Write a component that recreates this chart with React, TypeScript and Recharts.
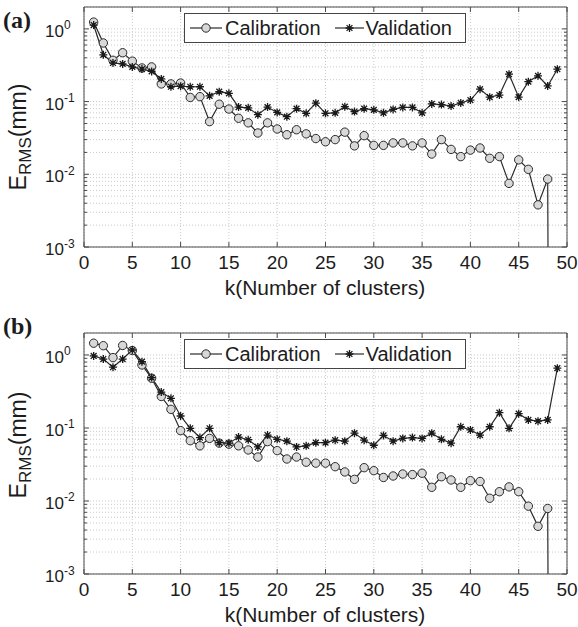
import React from 'react';
import { LineChart, Line, XAxis, YAxis, CartesianGrid, Legend } from 'recharts';

// k = 1..49
const clusters = [
  1, 2, 3, 4, 5, 6, 7, 8, 9, 10, 11, 12, 13, 14, 15, 16, 17, 18, 19, 20, 21, 22, 23, 24, 25,
  26, 27, 28, 29, 30, 31, 32, 33, 34, 35, 36, 37, 38, 39, 40, 41, 42, 43, 44, 45, 46, 47, 48, 49,
];

// (a) E_RMS in mm; last calibration point is ~0 (drops off the log axis)
const calibA = [
  1.24, 0.64, 0.37, 0.47, 0.36, 0.29, 0.3, 0.175, 0.175, 0.18,
  0.114, 0.117, 0.053, 0.092, 0.079, 0.059, 0.051, 0.037, 0.051, 0.042,
  0.035, 0.041, 0.036, 0.031, 0.028, 0.03, 0.038, 0.0246, 0.034, 0.025,
  0.025, 0.027, 0.027, 0.0246, 0.027, 0.019, 0.03, 0.022, 0.0175, 0.0215,
  0.023, 0.0166, 0.0175, 0.0075, 0.0158, 0.0117, 0.0038, 0.0086, 1e-30,
];
const validA = [
  1.13, 0.44, 0.34, 0.33, 0.3, 0.28, 0.26, 0.205, 0.16, 0.163,
  0.16, 0.16, 0.12, 0.137, 0.13, 0.084, 0.082, 0.066, 0.084, 0.071,
  0.062, 0.08, 0.069, 0.095, 0.069, 0.07, 0.085, 0.073, 0.08, 0.077,
  0.07, 0.078, 0.083, 0.083, 0.07, 0.093, 0.091, 0.087, 0.096, 0.105,
  0.148, 0.115, 0.123, 0.238, 0.115, 0.188, 0.226, 0.164, 0.279,
];

// (b)
const calibB = [
  1.45, 1.34, 0.92, 1.35, 1.15, 0.73, 0.48, 0.27, 0.18, 0.092,
  0.067, 0.057, 0.072, 0.062, 0.06, 0.057, 0.05, 0.04, 0.065, 0.049,
  0.0376, 0.04, 0.034, 0.033, 0.033, 0.0295, 0.025, 0.0198, 0.0286, 0.026,
  0.021, 0.022, 0.0234, 0.023, 0.024, 0.0154, 0.0215, 0.0194, 0.0154, 0.019,
  0.0185, 0.0109, 0.0134, 0.0156, 0.0134, 0.0085, 0.0045, 0.0079, 1e-30,
];
const validB = [
  0.97, 0.88, 0.68, 0.88, 1.17, 0.81, 0.49, 0.31, 0.255, 0.146,
  0.099, 0.074, 0.099, 0.063, 0.062, 0.075, 0.069, 0.055, 0.08, 0.07,
  0.066, 0.055, 0.057, 0.063, 0.063, 0.068, 0.066, 0.085, 0.068, 0.058,
  0.079, 0.066, 0.072, 0.074, 0.072, 0.085, 0.07, 0.062, 0.104, 0.094,
  0.08, 0.104, 0.162, 0.099, 0.157, 0.129, 0.124, 0.129, 0.66,
];

const xTicks = [0, 5, 10, 15, 20, 25, 30, 35, 40, 45, 50];
const decades = [0.001, 0.01, 0.1, 1];
const yTicks = [
  0.001, 0.002, 0.003, 0.004, 0.005, 0.006, 0.007, 0.008, 0.009,
  0.01, 0.02, 0.03, 0.04, 0.05, 0.06, 0.07, 0.08, 0.09,
  0.1, 0.2, 0.3, 0.4, 0.5, 0.6, 0.7, 0.8, 0.9,
  1,
];

const FONT = '"Liberation Sans", Arial, sans-serif';
const INK = '#1c1c1c';
const AXIS = '#4a4a4a';
const GRID = '#cacaca';

const XTick = (props: any) => {
  const { x, y, payload, top } = props;
  return (
    <g>
      <line x1={x} x2={x} y1={y} y2={top ? y + 5 : y - 5} stroke={AXIS} />
      {!top && (
        <text x={x} y={y + 22} textAnchor="middle" fontSize={19} fontFamily={FONT} fill={INK}>
          {payload.value}
        </text>
      )}
    </g>
  );
};

const YTick = (props: any) => {
  const { x, y, payload, right } = props;
  const v = payload.value;
  const major = decades.includes(v);
  const len = major ? 5 : 3;
  return (
    <g>
      <line x1={x} x2={right ? x - len : x + len} y1={y} y2={y} stroke={AXIS} />
      {major && !right && (
        <text fontFamily={FONT} fill={INK}>
          <tspan x={45} y={y + 8} fontSize={17}>10</tspan>
          <tspan x={64} y={y + 0.5} fontSize={12}>{String(Math.round(Math.log10(v)))}</tspan>
        </text>
      )}
    </g>
  );
};

const CircleDot = (props: any) => {
  const { cx, cy } = props;
  if (cx == null || cy == null || !isFinite(cy)) return <g key={props.index} />;
  return <circle key={props.index} cx={cx} cy={cy} r={4.2} fill="#d8d8d8" stroke="#2a2a2a" strokeWidth={1} />;
};

const StarDot = (props: any) => {
  const { cx, cy } = props;
  if (cx == null || cy == null || !isFinite(cy)) return <g key={props.index} />;
  const r = 4;
  const d = 2.9;
  return (
    <path
      key={props.index}
      d={`M${cx - r},${cy}H${cx + r}M${cx},${cy - r}V${cy + r}M${cx - d},${cy - d}L${cx + d},${cy + d}M${cx - d},${cy + d}L${cx + d},${cy - d}`}
      stroke="#1a1a1a"
      strokeWidth={1.3}
      fill="none"
    />
  );
};

const LegendBox = () => (
  <div
    style={{
      width: 280,
      height: 28,
      border: '1px solid #444',
      background: '#fff',
      display: 'flex',
      alignItems: 'center',
      fontFamily: FONT,
      fontSize: 20,
      color: INK,
      boxSizing: 'content-box',
    }}
  >
    <svg width={32} height={12} style={{ marginLeft: 5, marginRight: 3 }}>
      <line x1={0} x2={32} y1={6} y2={6} stroke="#2a2a2a" strokeWidth={1.2} />
      <CircleDot cx={16} cy={6} />
    </svg>
    <span>Calibration</span>
    <svg width={29} height={12} style={{ marginLeft: 14, marginRight: 2 }}>
      <line x1={0} x2={29} y1={6} y2={6} stroke="#2a2a2a" strokeWidth={1.2} />
      <StarDot cx={14.5} cy={6} />
    </svg>
    <span>Validation</span>
  </div>
);

interface PanelProps {
  tag: string;
  calib: number[];
  valid: number[];
  top: number;
  height: number;
  marginTop: number;
  marginBottom: number;
  labelCenter: number;
  tagBaseline: number;
}

const Panel = ({ tag, calib, valid, top, height, marginTop, marginBottom, labelCenter, tagBaseline }: PanelProps) => {
  const data = clusters.map((k, i) => ({ k, calib: calib[i], valid: valid[i] }));
  const plotBottom = height - marginBottom;

  return (
    <div style={{ position: 'absolute', left: 0, top, width: 578, height }}>
      <LineChart
        width={578}
        height={height}
        data={data}
        margin={{ top: marginTop - 1, right: 10, bottom: marginBottom - 1, left: 83 }}
      >
        <CartesianGrid stroke={GRID} strokeDasharray="1 2" />
        <XAxis
          dataKey="k"
          type="number"
          domain={[0, 50]}
          ticks={xTicks}
          interval={0}
          height={1}
          tickSize={0}
          tickMargin={0}
          tickLine={false}
          axisLine={{ stroke: AXIS }}
          tick={<XTick />}
          label={{
            content: () => (
              <text x={325} y={plotBottom + 48} textAnchor="middle" fontSize={21} fontFamily={FONT} fill={INK}>
                k(Number of clusters)
              </text>
            ),
          }}
        />
        <XAxis
          xAxisId="top"
          orientation="top"
          dataKey="k"
          type="number"
          domain={[0, 50]}
          ticks={xTicks}
          interval={0}
          height={1}
          tickSize={0}
          tickMargin={0}
          tickLine={false}
          axisLine={{ stroke: AXIS }}
          tick={<XTick top />}
        />
        <YAxis
          scale="log"
          domain={[0.001, 2]}
          allowDataOverflow
          ticks={yTicks}
          interval={0}
          width={1}
          tickSize={0}
          tickMargin={0}
          tickLine={false}
          axisLine={{ stroke: AXIS }}
          tick={<YTick />}
          label={{
            content: () => (
              <g>
                <text x={3} y={tagBaseline} fontSize={24} fontWeight="bold" fontFamily='"Liberation Serif", "Times New Roman", serif' fill={INK}>
                  {tag}
                </text>
                <text
                  transform={`rotate(-90 26 ${labelCenter})`}
                  x={26}
                  y={labelCenter}
                  textAnchor="middle"
                  fontSize={23}
                  fontFamily={FONT}
                  fill={INK}
                >
                  E<tspan dy={5} fontSize={17}>RMS</tspan>
                  <tspan dy={-5}>(mm)</tspan>
                </text>
              </g>
            ),
          }}
        />
        <YAxis
          yAxisId="right"
          orientation="right"
          scale="log"
          domain={[0.001, 2]}
          allowDataOverflow
          ticks={yTicks}
          interval={0}
          width={1}
          tickSize={0}
          tickMargin={0}
          tickLine={false}
          axisLine={{ stroke: AXIS }}
          tick={<YTick right />}
        />
        <Legend
          verticalAlign="top"
          align="center"
          layout="horizontal"
          wrapperStyle={{ position: 'absolute', left: 184, top: marginTop + 6, width: 282, height: 0 }}
          content={() => <LegendBox />}
        />
        <Line
          dataKey="calib"
          name="Calibration"
          type="linear"
          stroke="#2a2a2a"
          strokeWidth={1.2}
          dot={(p: any) => <CircleDot {...p} key={`c${p.index}`} />}
          activeDot={false}
          isAnimationActive={false}
        />
        <Line
          dataKey="valid"
          name="Validation"
          type="linear"
          stroke="#2a2a2a"
          strokeWidth={1.2}
          dot={(p: any) => <StarDot {...p} key={`v${p.index}`} />}
          activeDot={false}
          isAnimationActive={false}
        />
      </LineChart>
    </div>
  );
};

export default function App() {
  return (
    <div style={{ position: 'absolute', left: 0, top: 0, width: 578, height: 627, background: '#fff' }}>
      <Panel
        tag="(a)"
        calib={calibA}
        valid={validA}
        top={0}
        height={310}
        marginTop={7}
        marginBottom={63}
        labelCenter={137}
        tagBaseline={28}
      />
      <Panel
        tag="(b)"
        calib={calibB}
        valid={validB}
        top={310}
        height={317}
        marginTop={23}
        marginBottom={53}
        labelCenter={135}
        tagBaseline={24}
      />
    </div>
  );
}
